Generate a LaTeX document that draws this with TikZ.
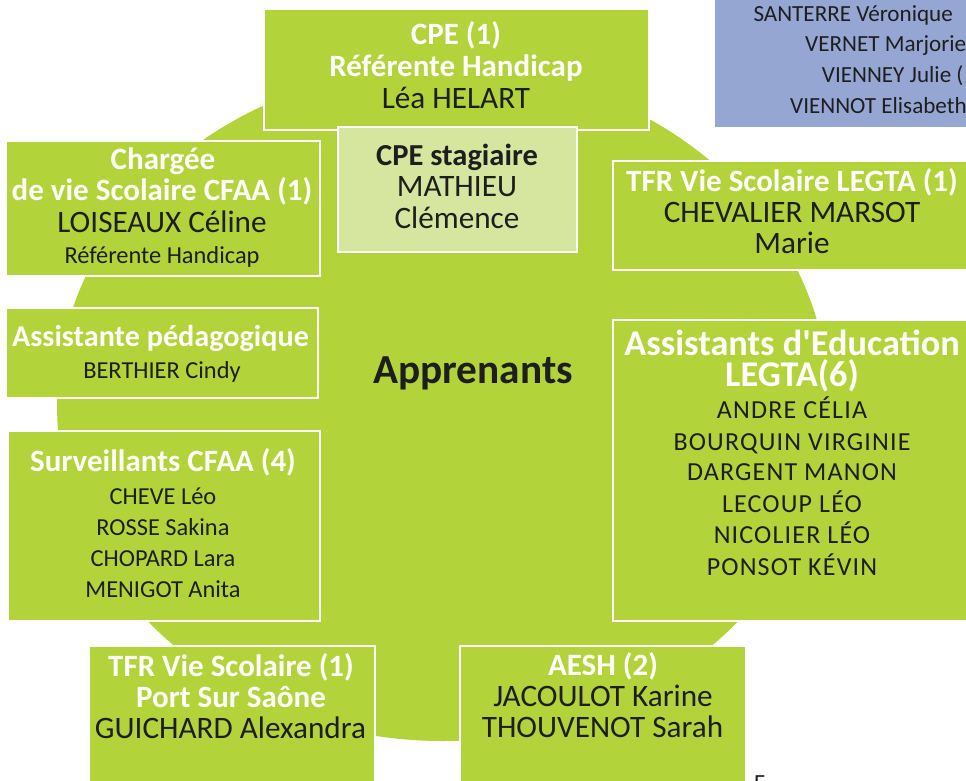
\documentclass[tikz,border=0pt]{standalone}
\usepackage{fontspec}
\setmainfont{Carlito}[Ligatures=TeXOff]
\definecolor{lime}{RGB}{179,211,58}
\definecolor{palelime}{RGB}{214,230,159}
\definecolor{bluebox}{RGB}{149,166,211}
\definecolor{ink}{RGB}{30,30,30}
\begin{document}
\begin{tikzpicture}[x=1pt,y=-1pt,
  box/.style={draw=white, line width=2.5pt, fill=lime, inner sep=0pt},
  palebox/.style={box, fill=palelime},
  txt/.style={anchor=base, inner sep=0pt},
  hd/.style={txt, text=white, font=\fontsize{31}{36}\selectfont\bfseries},
  hdnarrow/.style={txt, text=white, font=\fontsize{30.2}{36}\selectfont\bfseries},
  hdbig/.style={txt, text=white, font=\fontsize{36.3}{40}\selectfont\bfseries},
  hddark/.style={txt, text=ink, font=\fontsize{30.5}{36}\selectfont\bfseries},
  nm/.style={txt, text=ink, font=\fontsize{31.2}{36}\selectfont},
  sm/.style={txt, text=ink, font=\fontsize{24.4}{28}\selectfont},
  md/.style={txt, text=ink, font=\fontsize{26}{30}\selectfont\addfontfeature{LetterSpace=4.5}},
  bl/.style={anchor=base west, inner sep=0pt, text=ink, font=\fontsize{23.1}{27}\selectfont},
  centre/.style={txt, text=ink, font=\fontsize{41.3}{48}\selectfont\bfseries}]
\useasboundingbox (0,0) rectangle (966,780);
\clip (0,0) rectangle (966,780);
\fill[white] (0,0) rectangle (966,780);
% background disc
\fill[lime] (443,404) ellipse [x radius=386, y radius=337];
% boxes
\node[box, minimum width=385pt, minimum height=121pt] (cpe) at (456.5,69.5) {};
\node[palebox, minimum width=239pt, minimum height=125pt] (stag) at (457.5,189.5) {};
\node[box, minimum width=314pt, minimum height=135pt] (charg) at (163,208.5) {};
\node[box, minimum width=312pt, minimum height=90pt] (assp) at (162,353) {};
\node[box, minimum width=312pt, minimum height=190pt] (surv) at (164,526) {};
\node[box, minimum width=286pt, minimum height=154pt] (tfrp) at (232,723) {};
\node[box, minimum width=286pt, minimum height=154pt] (aesh) at (603,723) {};
\node[box, minimum width=387pt, minimum height=109pt] (tfrl) at (806.5,215.5) {};
\node[box, minimum width=387pt, minimum height=301pt] (aed) at (806.5,470.5) {};
\node[fill=bluebox, inner sep=0pt, minimum width=285pt, minimum height=147pt] (blue) at (857.5,53) {};
% CPE
\node[hd] (cpe1) at (456,44) {CPE (1)};
\node[hd] (cpe2) at (456,76.5) {Référente Handicap};
\node[nm] (cpe3) at (456,108.3) {Léa HELART};
% stagiaire
\node[hddark] (stag1) at (457,165) {CPE stagiaire};
\node[nm] (stag2) at (457,196.7) {MATHIEU};
\node[nm] (stag3) at (457,228.3) {Clémence};
% Chargée
\node[hd] (charg1) at (163,169.3) {Chargée};
\node[hd] (charg2) at (162,200) {de vie Scolaire CFAA (1)};
\node[nm] (charg3) at (162,232.7) {LOISEAUX Céline};
\node[sm] (charg4) at (162,263.3) {Référente Handicap};
% Assistante pédagogique
\node[hdnarrow] (assp1) at (160.5,346.7) {Assistante pédagogique};
\node[sm] (assp2) at (162,378.3) {BERTHIER Cindy};
% Surveillants
\node[hd] (surv1) at (163,471.7) {Surveillants CFAA (4)};
\node[sm] (surv2) at (163,504.3) {CHEVE Léo};
\node[sm] (surv3) at (163,535) {ROSSE Sakina};
\node[sm] (surv4) at (163,566) {CHOPARD Lara};
\node[sm] (surv5) at (163,597.3) {MENIGOT Anita};
% TFR Port sur Saône
\node[hd] (tfrp1) at (231,676.7) {TFR Vie Scolaire (1)};
\node[hd] (tfrp2) at (231,707.3) {Port Sur Saône};
\node[nm] (tfrp3) at (230.5,738.3) {GUICHARD Alexandra};
% AESH
\node[hd] (aesh1) at (603,675) {AESH (2)};
\node[nm] (aesh2) at (603,706) {JACOULOT Karine};
\node[nm] (aesh3) at (602.5,737.7) {THOUVENOT Sarah};
% TFR LEGTA
\node[hd] (tfrl1) at (792,191.7) {TFR Vie Scolaire LEGTA (1)};
\node[nm] (tfrl2) at (792,222.7) {CHEVALIER MARSOT};
\node[nm] (tfrl3) at (792,253.3) {Marie};
% Assistants d'Education
\node[hdbig] (aed1) at (792,355) {Assistants d'Education};
\node[hdbig] (aed2) at (792,386.7) {LEGTA(6)};
\node[md] (aed3) at (792,418.3) {ANDRE CÉLIA};
\node[md] (aed4) at (792,450) {BOURQUIN VIRGINIE};
\node[md] (aed5) at (792,480.7) {DARGENT MANON};
\node[md] (aed6) at (792,512.3) {LECOUP LÉO};
\node[md] (aed7) at (792,543.3) {NICOLIER LÉO};
\node[md] (aed8) at (792,575) {PONSOT KÉVIN};
% centre
\node[centre] (appr) at (473,383) {Apprenants};
% blue box
\node[bl] (blue1) at (753.3,21.7) {SANTERRE Véronique};
\node[bl] (blue2) at (805,51.7) {VERNET Marjorie};
\node[bl] (blue3) at (821.7,82.7) {VIENNEY Julie (};
\node[bl] (blue4) at (790,113.3) {VIENNOT Elisabeth};
% fragment at bottom edge
\node[bl] (frag) at (754,790) {E};
\end{tikzpicture}
\end{document}
